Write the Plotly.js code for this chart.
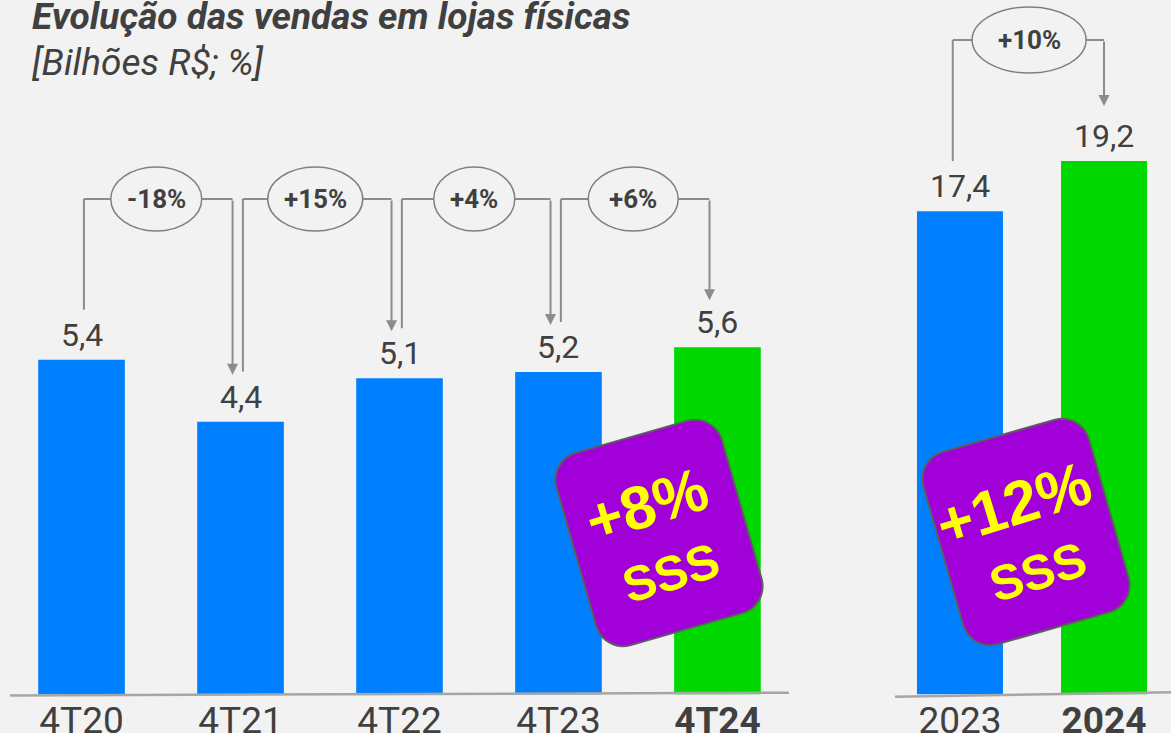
<!DOCTYPE html>
<html>
<head>
<meta charset="utf-8">
<script src="https://cdn.plot.ly/plotly-3.0.1.min.js"></script>
<style>html,body{margin:0;padding:0;background:#F2F2F2;}#chart{width:1171px;height:733px;}</style>
</head>
<body>
<div id="chart"></div>
<script>
// ---------- data ----------
const quarters = ['4T20', '4T21', '4T22', '4T23', '4T24'];
const quarterSales = [5.4, 4.4, 5.1, 5.2, 5.6];
const quarterLabels = ['5,4', '4,4', '5,1', '5,2', '5,6'];
const quarterGrowth = ['-18%', '+15%', '+4%', '+6%'];
const years = ['2023', '2024'];
const yearSales = [17.4, 19.2];
const yearLabels = ['17,4', '19,2'];
const yearGrowth = ['+10%'];
const sssQuarter = '+8%';
const sssYear = '+12%';
const sssText = 'SSS';
const titleText = 'Evolução das vendas em lojas físicas';
const subtitleText = '[Bilhões R$; %]';

// ---------- styling / geometry ----------
const W = 1171, H = 733;
const BLUE = '#0080FF', GREEN = '#00D800', TXT = '#404040', LINE = '#8C8C8C';
const baseY = 694.5;              // pixel row of the bar baseline
const yMaxQ = 11.2, yMaxY = 25.0;
const pxQ = baseY / yMaxQ, pxY = baseY / yMaxY;   // pixels per data unit
const xDomQ = [10 / W, 789 / W], xDomY = [895 / W, 1];
const yDom = [(H - baseY) / H, 1];
const pxCatQ = 779 / 4.9, pxCatY = 276 / 1.916;

function barColors(n) { return Array.from({length: n}, (_, i) => i === n - 1 ? GREEN : BLUE); }
function boldLast(a) { return a.map((t, i) => i === a.length - 1 ? '<b>' + t + '</b>' : t); }

const traces = [
  {type: 'bar', x: quarters, y: quarterSales, xaxis: 'x', yaxis: 'y', width: 0.545,
   marker: {color: barColors(quarters.length)}, hoverinfo: 'skip'},
  {type: 'bar', x: years, y: yearSales, xaxis: 'x2', yaxis: 'y2', width: 0.597,
   marker: {color: barColors(years.length)}, hoverinfo: 'skip'}
];

const annotations = [];
const shapes = [];

// value labels (x given as category index)
function addLabels(vals, labels, xr, yr) {
  vals.forEach((v, i) => annotations.push({
    xref: xr, yref: yr, x: i, y: v, text: labels[i], showarrow: false,
    xanchor: 'center', yanchor: 'bottom', yshift: 4, font: {family: 'Roboto', size: 32, color: TXT}
  }));
}
addLabels(quarterSales, quarterLabels, 'x', 'y');
addLabels(yearSales, yearLabels, 'x2', 'y2');

// growth brackets
function addBrackets(vals, growth, xr, yr, pxUnit, pxCat, levelPx, geo) {
  const level = (baseY - levelPx) / pxUnit;
  growth.forEach((g, i) => {
    const xL = i + geo.left, xE = i + geo.ell, xR = i + 1 + geo.right;
    const rx = geo.rx[i] / pxCat, ry = geo.ry / pxUnit;
    const yStart = vals[i] + 50 / pxUnit;
    const yTip = vals[i + 1] + geo.tip / pxUnit;
    const ln = {color: LINE, width: 2};
    shapes.push({type: 'line', xref: xr, yref: yr, x0: xL, x1: xL, y0: yStart, y1: level, line: ln});
    shapes.push({type: 'line', xref: xr, yref: yr, x0: xL, x1: xE - rx, y0: level, y1: level, line: ln});
    shapes.push({type: 'line', xref: xr, yref: yr, x0: xE + rx, x1: xR, y0: level, y1: level, line: ln});
    shapes.push({type: 'circle', xref: xr, yref: yr, x0: xE - rx, x1: xE + rx, y0: level - ry, y1: level + ry,
                 fillcolor: '#F2F2F2', line: {color: '#808080', width: 1.5}});
    annotations.push({xref: xr, yref: yr, x: xE, y: level, text: g, showarrow: false,
                      xanchor: 'center', yanchor: 'middle',
                      font: {family: 'Roboto', size: 26, color: TXT, weight: 'bold'}});
    annotations.push({xref: xr, yref: yr, axref: xr, ayref: yr, x: xR, y: yTip, ax: xR, ay: level,
                      text: '', showarrow: true, arrowhead: 2, arrowsize: 1.1, arrowwidth: 2,
                      arrowcolor: LINE, standoff: 0, startstandoff: 0});
  });
}
addBrackets(quarterSales, quarterGrowth, 'x', 'y', pxQ, pxCatQ, 199,
            {left: 0.015, ell: 0.47, right: -0.05, rx: [45.5, 47.5, 40.5, 45], ry: 32, tip: 47});
addBrackets(yearSales, yearGrowth, 'x2', 'y2', pxY, pxCatY, 40,
            {left: -0.05, ell: 0.48, right: 0, rx: [57], ry: 33, tip: 55});

// baselines (paper coords)
function P(px, py) { return [px / W, 1 - py / H]; }
[[10, 695.5, 789, 692.7], [895, 696.7, 1171, 692.3]].forEach(s => {
  const a = P(s[0], s[1]), b = P(s[2], s[3]);
  shapes.push({type: 'line', xref: 'paper', yref: 'paper', x0: a[0], y0: a[1], x1: b[0], y1: b[1],
               line: {color: '#A6A6A6', width: 2.5}});
});

// SSS badges
function badge(cx, cy, w, h, r, deg, big) {
  const t = deg * Math.PI / 180, c = Math.cos(t), s = Math.sin(t);
  const pts = [];
  const corners = [[w / 2 - r, -(h / 2 - r), -90], [w / 2 - r, h / 2 - r, 0], [-(w / 2 - r), h / 2 - r, 90], [-(w / 2 - r), -(h / 2 - r), 180]];
  corners.forEach(k => {
    for (let j = 0; j <= 10; j++) {
      const a = (k[2] + 9 * j) * Math.PI / 180;
      const x = k[0] + r * Math.cos(a), y = k[1] + r * Math.sin(a);
      pts.push([cx + x * c + y * s, cy - x * s + y * c]);
    }
  });
  const path = pts.map((p, i) => (i ? 'L' : 'M') + (p[0] / W).toFixed(5) + ',' + (1 - p[1] / H).toFixed(5)).join(' ') + ' Z';
  shapes.push({type: 'path', xref: 'paper', yref: 'paper', path: path, fillcolor: '#A100D8',
               line: {color: '#5E5E5E', width: 2}});
  const off = (dx, dy) => [cx + dx * c + dy * s, cy - dx * s + dy * c];
  const p1 = off(-4, -30), p2 = off(0, 42);
  annotations.push({xref: 'paper', yref: 'paper', x: p1[0] / W, y: 1 - p1[1] / H, text: big, showarrow: false,
                    xanchor: 'center', yanchor: 'middle', textangle: -deg - 1,
                    font: {family: 'Liberation Sans, Arial', size: 61, color: '#FFFF00', weight: 'bold'}});
  annotations.push({xref: 'paper', yref: 'paper', x: p2[0] / W, y: 1 - p2[1] / H, text: sssText, showarrow: false,
                    xanchor: 'center', yanchor: 'middle', textangle: -deg - 1,
                    font: {family: 'Liberation Sans, Arial', size: 49, color: '#FFFF00', weight: 'bold'}});
}
badge(659, 533, 172, 200, 28, 16, sssQuarter);
badge(1026, 532, 172, 200, 28, 16, sssYear);

// title
annotations.push({xref: 'paper', yref: 'paper', x: 30 / W, y: 1 - 17 / H, xanchor: 'left', yanchor: 'middle',
                  text: titleText, showarrow: false,
                  font: {family: 'Roboto', size: 37, color: TXT, weight: 'bold', style: 'italic'}});
annotations.push({xref: 'paper', yref: 'paper', x: 30 / W, y: 1 - 63 / H, xanchor: 'left', yanchor: 'middle',
                  text: subtitleText, showarrow: false,
                  font: {family: 'Roboto', size: 37, color: TXT, style: 'italic'}});

const axisCommon = {showgrid: false, zeroline: false, showline: false, ticks: '', fixedrange: true,
                    tickfont: {family: 'Roboto', size: 37, color: TXT}};
const layout = {
  width: W, height: H, margin: {l: 0, r: 0, t: 0, b: 0},
  paper_bgcolor: '#F2F2F2', plot_bgcolor: 'rgba(0,0,0,0)', showlegend: false,
  xaxis: Object.assign({}, axisCommon, {domain: xDomQ, range: [-0.45, 4.45], type: 'category',
          tickvals: quarters, ticktext: boldLast(quarters), anchor: 'y', ticklabelstandoff: 0}),
  yaxis: {domain: yDom, range: [0, yMaxQ], visible: false, fixedrange: true, anchor: 'x'},
  xaxis2: Object.assign({}, axisCommon, {domain: xDomY, range: [-0.451, 1.465], type: 'category',
          tickvals: years, ticktext: boldLast(years), anchor: 'y2', ticklabelstandoff: 0}),
  yaxis2: {domain: yDom, range: [0, yMaxY], visible: false, fixedrange: true, anchor: 'x2'},
  shapes: shapes, annotations: annotations
};
Plotly.newPlot('chart', traces, layout, {displayModeBar: false, staticPlot: true});
</script>
</body>
</html>
